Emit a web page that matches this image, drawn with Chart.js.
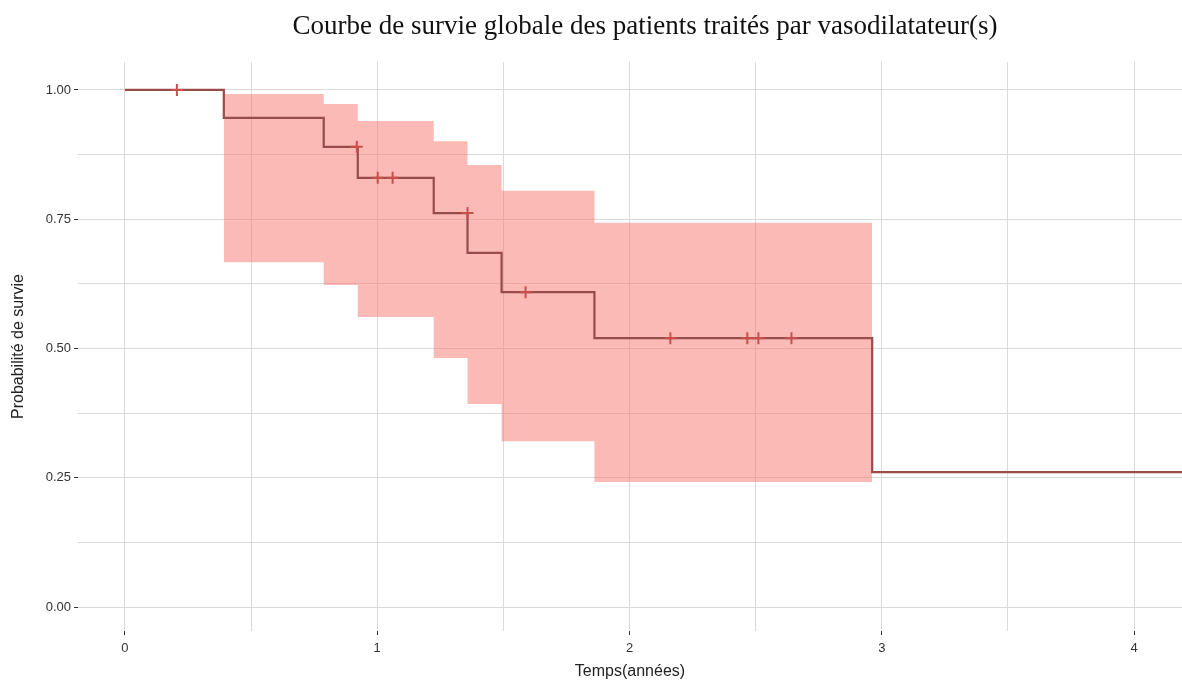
<!DOCTYPE html>
<html>
<head>
<meta charset="utf-8">
<title>Courbe de survie</title>
<script src="https://cdn.jsdelivr.net/npm/chart.js@4"></script>
<style>
    body { margin: 0; background: #fff; }
    #wrap { width: 1182px; height: 687px; position: relative; }
</style>
</head>
<body>
<div id="wrap"><canvas id="survie"></canvas></div>
<script>
// Kaplan-Meier steps: time (years) where the curve drops, and the survival level after it
const stepTimes = [0, 0.392, 0.788, 0.923, 1.224, 1.358, 1.493, 1.861, 2.962, 4.19];
const survival  = [1.0, 0.946, 0.890, 0.830, 0.762, 0.685, 0.609, 0.520, 0.261, 0.261];

// confidence band (same step times, from the first event to 2.962)
const bandTimes = [0.392, 0.788, 0.923, 1.224, 1.358, 1.493, 1.861, 2.962];
const bandUpper = [0.992, 0.973, 0.940, 0.901, 0.855, 0.805, 0.743, 0.743];
const bandLower = [0.667, 0.623, 0.561, 0.482, 0.393, 0.321, 0.242, 0.242];

// censored patients
const censorTimes  = [0.206, 0.919, 1.002, 1.061, 1.358, 1.588, 2.162, 2.467, 2.511, 2.642];
const censorLevels = [1.0, 0.890, 0.830, 0.830, 0.762, 0.609, 0.520, 0.520, 0.520, 0.520];

const xTicks = [0, 1, 2, 3, 4];
const yTicks = [0, 0.25, 0.5, 0.75, 1];

const titleText = 'Courbe de survie globale des patients traités par vasodilatateur(s)';

const pts = (xs, ys) => xs.map((x, i) => ({ x: x, y: ys[i] }));

const lineColor = '#984c4a';
const markColor = '#c9514d';
const gridColor = '#dadada';
const sans = '"Liberation Sans", Arial, sans-serif';

// title sits a little right of the panel centre in the original
const titlePlugin = {
    id: 'serifTitle',
    afterDraw(chart) {
        const ctx = chart.ctx;
        ctx.save();
        ctx.font = '27px "Liberation Serif", "DejaVu Serif", serif';
        ctx.fillStyle = '#111';
        ctx.textAlign = 'center';
        ctx.textBaseline = 'middle';
        ctx.fillText(titleText, 645, 27);
        ctx.restore();
    }
};

new Chart(document.getElementById('survie'), {
    type: 'line',
    data: {
        datasets: [
            {
                type: 'scatter',
                label: 'Censure',
                data: pts(censorTimes, censorLevels),
                pointStyle: 'cross',
                pointRadius: 6,
                borderColor: markColor,
                borderWidth: 2,
                order: 0
            },
            {
                label: 'Survie',
                data: pts(stepTimes, survival),
                stepped: 'before',
                borderColor: lineColor,
                borderWidth: 2.2,
                pointRadius: 0,
                fill: false,
                order: 1
            },
            {
                label: 'IC sup',
                data: pts(bandTimes, bandUpper),
                stepped: 'before',
                borderWidth: 0,
                pointRadius: 0,
                backgroundColor: 'rgba(248, 118, 109, 0.5)',
                fill: '+1',
                order: 2
            },
            {
                label: 'IC inf',
                data: pts(bandTimes, bandLower),
                stepped: 'before',
                borderWidth: 0,
                pointRadius: 0,
                fill: false,
                order: 3
            }
        ]
    },
    options: {
        responsive: true,
        maintainAspectRatio: false,
        animation: false,
        layout: { autoPadding: false, padding: { top: 62, right: 0, left: 0, bottom: 0 } },
        plugins: {
            legend: { display: false },
            tooltip: { enabled: false },
            title: { display: false }
        },
        scales: {
            x: {
                type: 'linear',
                min: -0.186,
                max: 4.19,
                border: { display: false },
                grid: {
                    color: gridColor,
                    lineWidth: 1,
                    tickLength: 4,
                    tickColor: (c) => xTicks.includes(c.tick && c.tick.value) ? '#333' : 'rgba(0,0,0,0)'
                },
                ticks: {
                    stepSize: 0.5,
                    includeBounds: false,
                    maxRotation: 0,
                    autoSkip: false,
                    padding: 6,
                    color: '#333',
                    font: { family: sans, size: 13 },
                    callback: (v) => xTicks.includes(v) ? String(v) : ''
                },
                title: {
                    display: true,
                    text: 'Temps(années)',
                    color: '#222',
                    font: { family: sans, size: 16 },
                    padding: { top: 2, bottom: 6 }
                },
                afterFit: (s) => { s.height = 56; }
            },
            y: {
                min: -0.046,
                max: 1.054,
                border: { display: false },
                grid: {
                    color: gridColor,
                    lineWidth: 1,
                    tickLength: 4,
                    tickColor: (c) => yTicks.includes(c.tick && c.tick.value) ? '#333' : 'rgba(0,0,0,0)'
                },
                ticks: {
                    stepSize: 0.125,
                    includeBounds: false,
                    autoSkip: false,
                    padding: 3,
                    color: '#333',
                    font: { family: sans, size: 13 },
                    callback: (v) => yTicks.includes(v) ? v.toFixed(2) : ''
                },
                title: {
                    display: true,
                    text: 'Probabilité de survie',
                    color: '#222',
                    font: { family: sans, size: 16 },
                    padding: { top: 9, bottom: 4 }
                },
                afterFit: (s) => { s.width = 78; }
            }
        }
    },
    plugins: [titlePlugin]
});
</script>
</body>
</html>
